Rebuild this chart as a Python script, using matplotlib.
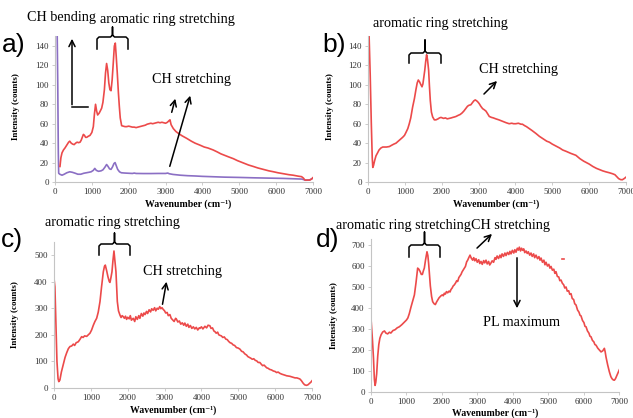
import matplotlib
matplotlib.use("Agg")
import matplotlib.pyplot as plt
from matplotlib.lines import Line2D
from matplotlib.patches import FancyArrowPatch

W, H = 633, 418

# ---------- data ----------
xticks = [0, 1000, 2000, 3000, 4000, 5000, 6000, 7000]

a_red_x = [135, 160, 190, 230, 270, 320, 370, 400, 440, 480, 520, 560, 600, 640, 680, 710, 740, 770, 800, 830,
           860, 900, 950, 1000, 1040, 1070, 1100, 1130, 1157, 1200, 1240, 1266, 1300, 1340, 1370, 1400, 1430, 1460,
           1490, 1520, 1550, 1580, 1610, 1636, 1660, 1690, 1720, 1745, 1770, 1808, 1850, 1900, 1944, 2000, 2050,
           2100, 2150, 2200, 2250, 2300, 2350, 2400, 2450, 2500, 2550, 2600, 2650, 2700, 2750, 2800, 2850, 2900,
           2950, 3000, 3050, 3090, 3120, 3150, 3210, 3280, 3350, 3450, 3570, 3700, 3800, 3930, 4050, 4150, 4290,
           4400, 4500, 4600, 4700, 4840, 4950, 5050, 5150, 5250, 5380, 5500, 5650, 5800, 5920, 6050, 6200, 6350,
           6460, 6600, 6690, 6740, 6780, 6850, 6915, 6960, 7000]
a_red_y = [16, 25, 30, 33, 35, 38, 41, 42, 40, 39, 38.5, 40, 41, 40.5, 41, 43, 46, 49, 48, 46,
           46, 47, 48, 51, 57, 70, 80, 73, 69, 71, 74, 76, 82, 95, 112, 122, 115, 102,
           95, 94, 105, 122, 140, 143, 130, 112, 92, 78, 66, 58, 57.5, 57, 57, 57.5, 57,
           56.5, 56.5, 56, 56.5, 57, 57.5, 58, 58.5, 59.5, 60, 60.5, 60, 60.5, 61, 61.5, 61, 61.5,
           61, 60.5, 61.5, 63, 64, 59, 55, 52, 50, 47.5, 45, 42, 40, 38, 36, 35, 33,
           31, 29, 27.5, 26, 24, 22, 20.5, 19, 17.5, 16, 14.5, 13, 11.5, 10.6, 9.5, 8.5, 7.5,
           7, 6, 5.5, 4, 2, 2, 2, 3, 4.5]

a_pur_x = [60, 75, 90, 100, 130, 190, 250, 320, 400, 470, 550, 620, 700, 780, 850, 920, 980, 1040, 1080, 1120,
           1180, 1250, 1300, 1350, 1400, 1440, 1480, 1520, 1560, 1600, 1630, 1660, 1700, 1750, 1800, 1900, 2000,
           2100, 2150, 2200, 2400, 2600, 2800, 3000, 3060, 3100, 3200, 3400, 3600, 3800, 4000, 4300, 4600, 5000,
           5400, 5800, 6200, 6500, 6700, 6800, 6900, 6950, 7000]
a_pur_y = [150, 100, 30, 9, 8, 7, 8, 9.5, 10.5, 10, 9, 8, 8, 9, 9.5, 10, 10.5, 12, 14, 12,
           11, 11.5, 12.5, 15, 18, 16, 13.5, 13, 15.5, 19, 20, 17, 13, 10.5, 9.5, 9.2, 9,
           8.8, 9.2, 8.8, 8.7, 8.7, 8.8, 8.8, 9.2, 8.5, 7.8, 7, 6.5, 6.2, 5.8, 5.4, 5, 4.7,
           4.3, 4, 3.7, 3.3, 3, 1.8, 2, 3, 4]

b_x = [30, 60, 90, 115, 130, 150, 180, 217, 260, 300, 350, 400, 443, 500, 580, 650, 700, 760, 820, 880, 940,
       990, 1030, 1080, 1120, 1160, 1210, 1260, 1300, 1335, 1365, 1400, 1437, 1465, 1490, 1515, 1540, 1565,
       1590, 1615, 1645, 1665, 1690, 1720, 1754, 1800, 1844, 1900, 1940, 1980, 2050, 2100, 2150, 2205, 2260,
       2300, 2350, 2390, 2440, 2500, 2550, 2600, 2650, 2700, 2740, 2790, 2830, 2870, 2910, 2950, 2990, 3020,
       3060, 3110, 3150, 3200, 3250, 3290, 3350, 3400, 3470, 3550, 3650, 3750, 3830, 3900, 3950, 4010, 4080,
       4150, 4190, 4250, 4300, 4375, 4450, 4555, 4650, 4750, 4850, 4920, 5000, 5100, 5200, 5280, 5380, 5500,
       5640, 5750, 5850, 5950, 6000, 6100, 6200, 6300, 6365, 6450, 6550, 6635, 6700, 6750, 6800, 6850, 6900,
       6950, 7000]
b_y = [150, 110, 60, 25, 15, 17, 22, 27, 30, 33, 35, 36, 36, 36, 36.5, 38, 39, 40, 42, 44, 46,
       48, 51, 55, 60, 66, 77, 86, 95, 102, 105, 103, 100, 98, 101, 108, 115, 124,
       131, 126, 115, 100, 84, 72, 67, 64, 64, 65, 66, 66.5, 65.5, 66, 65, 65.5, 66,
       66.5, 67, 67.5, 68.5, 69.5, 71, 73, 75.5, 78, 79, 79.5, 81.5, 83.5, 84.5, 83.5, 82, 80.5,
       78, 75.5, 74.5, 73, 70, 67.5, 66.5, 66, 65, 64, 62.5, 61, 60, 60.5, 60, 60, 60.5,
       59.5, 59.5, 58, 57, 55, 53, 50, 47, 44.5, 42, 41, 39, 37, 35, 33, 31.5, 29.5,
       27.5, 24, 21.5, 19.5, 18.5, 16, 14, 12.5, 11.5, 10.5, 9.5, 8.5, 7.5, 5.5, 3.5, 2.5, 2.3,
       3.5, 5]

c_x = [0, 25, 50, 80, 110, 130, 160, 200, 253, 300, 343, 390, 434, 480, 524, 560, 600, 660, 700, 750, 790,
       830, 886, 930, 976, 1020, 1067, 1110, 1157, 1200, 1248, 1290, 1338, 1370, 1392, 1430, 1464, 1500, 1519,
       1545, 1573, 1600, 1627, 1650, 1681, 1700, 1718, 1750, 1790, 1820, 1850, 1880, 1910, 1940, 1970, 2000,
       2040, 2070, 2100, 2150, 2190, 2220, 2260, 2300, 2330, 2370, 2410, 2440, 2470, 2510, 2540, 2580, 2620,
       2650, 2690, 2730, 2760, 2800, 2830, 2870, 2900, 2930, 2960, 3000, 3030, 3070, 3100, 3145, 3180, 3220,
       3260, 3300, 3325, 3360, 3400, 3440, 3480, 3520, 3550, 3590, 3630, 3660, 3700, 3740, 3780, 3820, 3860,
       3900, 3940, 3960, 4000, 4040, 4095, 4140, 4180, 4230, 4260, 4300, 4340, 4366, 4400, 4440, 4470, 4500,
       4540, 4580, 4620, 4660, 4700, 4740, 4780, 4820, 4860, 4900, 4950, 5000, 5045, 5090, 5130, 5180, 5225,
       5260, 5300, 5340, 5380, 5420, 5460, 5500, 5540, 5585, 5620, 5660, 5700, 5740, 5770, 5810, 5850, 5900,
       5950, 6000, 6040, 6080, 6130, 6180, 6230, 6270, 6310, 6360, 6400, 6450, 6490, 6540, 6590, 6630, 6670,
       6710, 6760, 6800, 6850, 6890, 6940, 6970, 7005]
c_y = [412, 380, 250, 100, 35, 24, 30, 60, 90, 115, 132, 148, 156, 158, 165, 160, 170, 174, 182, 193, 190,
       196, 194, 200, 206, 218, 236, 250, 262, 285, 325, 380, 437, 458, 462, 440, 418, 400, 397,
       415, 437, 480, 515, 480, 437, 380, 325, 290, 274, 265, 272, 268, 262, 270, 258, 266,
       260, 272, 255, 262, 250, 268, 258, 272, 262, 280, 270, 282, 276, 288, 280, 294, 286,
       298, 292, 302, 290, 300, 296, 306, 298, 302, 296, 290, 282, 284, 272, 276, 262, 256,
       250, 262, 258, 248, 252, 240, 245, 236, 244, 232, 240, 228, 235, 224, 230, 222, 228,
       218, 226, 224, 230, 222, 232, 226, 236, 234, 224, 226, 214, 212, 206, 210, 200, 198,
       196, 190, 192, 184, 182, 175, 170, 168, 162, 160, 152, 150, 146, 138, 136, 128, 124,
       118, 115, 112, 108, 110, 104, 102, 96, 96, 90, 84, 86, 80, 76, 74, 70, 68,
       64, 62, 58, 60, 55, 52, 50, 48, 46, 45, 44, 42, 40, 38, 38, 36, 34,
       28, 18, 12, 10, 12, 18, 22, 28]

d_x = [0, 40, 70, 95, 115, 135, 160, 190, 220, 250, 285, 330, 380, 420, 470, 520, 560, 620, 680, 740, 800,
       870, 940, 1000, 1040, 1080, 1130, 1180, 1225, 1270, 1317, 1350, 1383, 1420, 1450, 1480, 1505, 1540, 1580,
       1605, 1628, 1655, 1675, 1710, 1740, 1780, 1816, 1850, 1882, 1920, 1976, 2010, 2040, 2070, 2100, 2130,
       2164, 2200, 2230, 2258, 2290, 2320, 2352, 2390, 2420, 2446, 2480, 2510, 2541, 2570, 2600, 2635, 2665,
       2700, 2729, 2760, 2795, 2830, 2870, 2900, 2930, 2964, 3000, 3040, 3070, 3105, 3140, 3180, 3210, 3246,
       3280, 3320, 3350, 3388, 3420, 3460, 3500, 3529, 3560, 3600, 3640, 3670, 3700, 3740, 3780, 3811, 3850,
       3890, 3920, 3952, 3990, 4030, 4060, 4093, 4130, 4160, 4187, 4220, 4250, 4281, 4310, 4340, 4376, 4410,
       4440, 4480, 4517, 4550, 4590, 4620, 4658, 4700, 4740, 4770, 4800, 4840, 4880, 4910, 4940, 4980, 5020,
       5050, 5081, 5120, 5160, 5190, 5222, 5260, 5300, 5330, 5364, 5400, 5440, 5470, 5505, 5540, 5580, 5610,
       5646, 5680, 5720, 5750, 5787, 5830, 5870, 5900, 5928, 5970, 6010, 6040, 6070, 6110, 6150, 6180, 6211,
       6250, 6290, 6320, 6352, 6400, 6440, 6493, 6540, 6587, 6610, 6634, 6680, 6728, 6770, 6803, 6840, 6870,
       6900, 6945, 6980, 7010]
d_y = [350, 250, 160, 60, 30, 45, 85, 170, 225, 255, 272, 285, 290, 280, 276, 284, 280, 292, 296, 305, 310,
       320, 332, 342, 352, 372, 405, 435, 462, 520, 590, 585, 575, 560, 560, 578, 590, 630, 668,
       650, 610, 550, 505, 455, 430, 420, 416, 428, 437, 448, 458, 462, 458, 470, 466, 478,
       472, 480, 476, 488, 495, 505, 510, 520, 530, 526, 545, 552, 560, 572, 580, 590, 598,
       620, 628, 640, 652, 638, 628, 640, 625, 635, 618, 630, 612, 622, 608, 626, 615, 628,
       610, 622, 605, 615, 625, 618, 640, 632, 648, 636, 652, 640, 658, 646, 662, 650, 665,
       655, 670, 658, 675, 662, 678, 666, 685, 676, 690, 672, 685, 675, 682, 664, 672, 660,
       668, 652, 662, 646, 658, 640, 652, 635, 645, 628, 638, 618, 628, 606, 618, 600, 608,
       590, 598, 580, 585, 565, 573, 550, 548, 530, 533, 518, 510, 495, 500, 480, 482, 465,
       468, 445, 440, 420, 414, 390, 380, 365, 362, 340, 330, 312, 310, 290, 280, 265, 262,
       245, 238, 225, 222, 208, 200, 190, 195, 207, 190, 165, 128, 95, 72, 62, 56, 55,
       62, 80, 95, 105]
d_dot_x = [5380, 5440]
d_dot_y = [633, 633]

RED = "#ec4a4a"
PURPLE = "#8b6fc4"

plt.rcParams["font.family"] = ["Liberation Serif", "DejaVu Serif"]

fig = plt.figure(figsize=(W / 100, H / 100), dpi=100)


def P(x, y):
    return (x / W, 1 - y / H)


def make_ax(x0, x1, ytop, ybot, ymax, yticks):
    ax = fig.add_axes([x0 / W, 1 - ybot / H, (x1 - x0) / W, (ybot - ytop) / H])
    ax.set_xlim(0, 7000)
    ax.set_ylim(0, ymax)
    ax.set_xticks(xticks)
    ax.set_yticks(yticks)
    for s in ["top", "right"]:
        ax.spines[s].set_visible(False)
    for s in ["left", "bottom"]:
        ax.spines[s].set_color("#c4c4c4")
        ax.spines[s].set_linewidth(0.8)
    ax.tick_params(length=2.5, width=0.6, color="#c4c4c4", labelsize=6.5, labelcolor="#333333", pad=2)
    ax.set_ylabel("Intensity (counts)", fontsize=6.5, fontweight="bold")
    ax.set_xlabel("Wavenumber (cm\u207b\u00b9)", fontsize=7, fontweight="bold")
    return ax


ax_a = make_ax(55, 313, 36.3, 182, 150, range(0, 141, 20))
ax_a.plot(a_pur_x, a_pur_y, color=PURPLE, lw=1.2)
ax_a.plot(a_red_x, a_red_y, color=RED, lw=1.2)
ax_a.yaxis.set_label_coords(-0.135, 0.52)
ax_a.xaxis.set_label_coords(0.515, -0.12)

ax_b = make_ax(368, 626, 36.3, 182, 150, range(0, 141, 20))
ax_b.plot(b_x, b_y, color=RED, lw=1.2)
ax_b.yaxis.set_label_coords(-0.13, 0.52)
ax_b.xaxis.set_label_coords(0.496, -0.12)

ax_c = make_ax(54, 312, 241.7, 388, 550, range(0, 501, 100))
ax_c.plot(c_x, c_y, color=RED, lw=1.2)
ax_c.yaxis.set_label_coords(-0.136, 0.5)
ax_c.xaxis.set_label_coords(0.46, -0.12)

ax_d = make_ax(371, 619, 238.8, 391.7, 730, range(0, 701, 100))
ax_d.plot(d_x, d_y, color=RED, lw=1.2)
ax_d.plot(d_dot_x, d_dot_y, color=RED, lw=1.2)
ax_d.yaxis.set_label_coords(-0.133, 0.5)
ax_d.xaxis.set_label_coords(0.5, -0.11)


# ---------- annotations (figure pixel coords) ----------
def label(x, y, s, size=10.2, **kw):
    fig.text(*P(x, y), s, fontsize=size, va="center", **kw)


def arrow(x0, y0, x1, y1):
    fig.add_artist(FancyArrowPatch(P(x0, y0), P(x1, y1), transform=fig.transFigure,
                                   arrowstyle="->", mutation_scale=11, lw=1.1, color="black"))


def brace(xl, xr, yend, ytop, ytip):
    xc = (xl + xr) / 2
    pts = [(xl, yend), (xl, ytop + 2), (xl + 2, ytop), (xc - 2, ytop), (xc, ytop - 2), (xc, ytip),
           (xc, ytop - 2), (xc + 2, ytop), (xr - 2, ytop), (xr, ytop + 2), (xr, yend)]
    xs = [P(*p)[0] for p in pts]
    ys = [P(*p)[1] for p in pts]
    fig.add_artist(Line2D(xs, ys, transform=fig.transFigure, color="black", lw=1.1))


panel_font = ["Liberation Sans", "DejaVu Sans"]
for txt, x, y in [("a)", 2, 45), ("b)", 322, 45), ("c)", 1, 240), ("d)", 316, 240)]:
    fig.text(*P(x, y), txt, fontsize=19, family=panel_font, va="center")

# a
label(27, 18, "CH bending")
label(100, 20, "aromatic ring stretching")
fig.add_artist(Line2D([P(88, 107)[0], P(72, 107)[0]], [P(88, 107)[1], P(72, 107)[1]],
                      transform=fig.transFigure, color="black", lw=1.1))
arrow(72, 107.5, 72, 36)
brace(97, 128, 49, 37, 27)
label(152, 80, "CH stretching")
arrow(171, 115, 176, 96)
arrow(169, 169, 191, 93)

# b
label(373, 24, "aromatic ring stretching")
brace(409, 441, 63, 53, 40)
label(479, 70, "CH stretching")
arrow(482, 96, 499, 79)

# c
label(45, 223, "aromatic ring stretching")
brace(99, 130, 255, 244, 233)
label(143, 271, "CH stretching")
arrow(162, 307, 167, 279)

# d
label(336, 225, "aromatic ring stretching")
label(471, 225, "CH stretching")
brace(409, 440, 257, 245, 232)
arrow(475, 250, 494, 232)
arrow(517, 255, 517, 311)
label(483, 322, "PL maximum")

fig.savefig("out.png", dpi=100)
